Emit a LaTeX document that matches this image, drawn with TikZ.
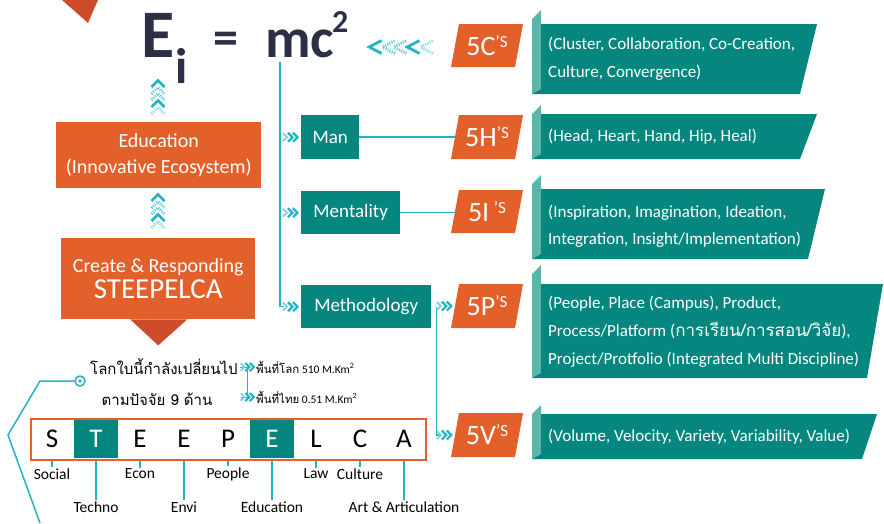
\documentclass[tikz,border=0pt]{standalone}
\usepackage{fontspec}
\setmainfont{Carlito}
\newfontfamily\thaifont[Script=Thai]{Loma}
\usetikzlibrary{positioning}

\definecolor{orng}{HTML}{E4602A}
\definecolor{orngdark}{HTML}{CF4C2A}
\definecolor{tealbox}{HTML}{05877F}
\definecolor{tealtab}{HTML}{5BB6A9}
\definecolor{cyanline}{HTML}{22B3C4}
\definecolor{navy}{HTML}{2B3047}

\tikzset{
  obox/.style={fill=orng, text=white, inner sep=0pt, align=center},
  tbox/.style={fill=tealbox, text=white, inner sep=0pt, font=\fontsize{19}{20}\selectfont},
  tag/.style={text=white, inner sep=0pt, minimum width=64pt, minimum height=43pt, font=\fontsize{28}{28}\selectfont},
  btext/.style={text=white, anchor=west, align=left, inner sep=0pt},
  formula/.style={text=navy, inner sep=0pt, anchor=base west},
  cline/.style={draw=cyanline, line width=1.5pt},
  letter/.style={font=\fontsize{27}{27}\selectfont, inner sep=0pt},
  lbl/.style={font=\fontsize{15.5}{16}\selectfont, inner sep=1pt},
  thaitxt/.style={inner sep=0pt, font=\thaifont\fontsize{15}{15}\selectfont},
  chevs/.pic={
    \draw[cyanline!60, line width=1.8pt] (-8,-4)--(-4,0)--(-8,4);
    \draw[cyanline, line width=2.2pt] (-3,-4.5)--(1.5,0)--(-3,4.5) (2,-4.5)--(6.5,0)--(2,4.5);
  },
  upchev/.pic={
    \draw[cyanline, line width=2.8pt] (-6.5,4)--(0,-2.5)--(6.5,4);
    \draw[cyanline!70, line width=2.8pt, dash pattern=on 1.2pt off 1.2pt] (-6.5,11)--(0,4.5)--(6.5,11);
    \draw[cyanline!70, line width=2.8pt, dash pattern=on 1.2pt off 1.2pt] (-6.5,17)--(0,10.5)--(6.5,17);
    \draw[cyanline, line width=2.8pt] (-6.5,24)--(0,17.5)--(6.5,24);
    \draw[cyanline!50, line width=2.8pt, dash pattern=on 1.2pt off 1.2pt] (-6.5,31)--(0,24.5)--(6.5,31);
  }
}
\newcommand\sups[1]{\raisebox{8pt}{\fontsize{17}{17}\selectfont #1}}

\begin{document}
\begin{tikzpicture}[x=1pt, y=-1pt, >=latex]
\useasboundingbox (0,0) rectangle (884,523);

\fill[orngdark] (62,0) -- (98,0) -- (88,23) -- cycle;

% E_i = mc^2
\node[formula, font=\bfseries\fontsize{68}{68}\selectfont] (E) at (141,57) {E};
\node[formula, font=\bfseries\fontsize{50}{50}\selectfont] (Ei) at (175,83) {i};
\node[formula, font=\bfseries\fontsize{50}{50}\selectfont] (eq) at (213,54) {=};
\node[formula, font=\bfseries\fontsize{56}{56}\selectfont] (mc) at (265,57) {mc};
\node[formula, font=\bfseries\fontsize{32}{32}\selectfont] (sq) at (332,32) {2};
\pic[rotate=90, yscale=1.9] at (374,47) {upchev};

% left column
\node[obox, minimum width=205pt, minimum height=66pt, anchor=north west,
      font=\fontsize{20}{26}\selectfont] (edu) at (56,122) {Education\\(Innovative Ecosystem)};
\node[obox, minimum width=194pt, minimum height=81pt, anchor=north west] (steep) at (61,238)
      {\fontsize{20}{24}\selectfont Create \& Responding\\[3pt]\fontsize{29}{29}\selectfont STEEPELCA};
\fill[orngdark] ([xshift=-28pt]steep.south) -- ([xshift=29pt]steep.south) -- ([yshift=-26pt]steep.south) -- cycle;
\pic at (158,83) {upchev};
\pic at (158,197) {upchev};

% the 3 M's
\node[tbox, minimum width=58pt, minimum height=44pt, anchor=north west] (man) at (301,115) {Man};
\node[tbox, minimum width=99pt, minimum height=43pt, anchor=north west] (ment) at (301,191) {Mentality};
\node[tbox, minimum width=130pt, minimum height=43pt, anchor=north west] (meth) at (301,285) {Methodology};
\coordinate (spine) at (280,62);
\draw[cline] (spine) |- ([xshift=-17pt]meth.west);
\pic at ([xshift=-10pt]man.west) {chevs};
\pic at ([xshift=-10pt]ment.west) {chevs};
\pic at ([xshift=-10pt]meth.west) {chevs};

% orange tags
\foreach \nm/\tp/\bt/\txt in {c5/24/67/5C, h5/115/159/5H, i5/190/233/{5I\,}, p5/284/328/5P, v5/413/457/5V}{
  \fill[orng] (459,\tp) -- (523,\tp) -- (515,\bt) -- (451,\bt) -- cycle;
  \node[tag] (\nm) at (487,{(\tp+\bt)/2}) {\txt\sups{’S}};
}
\draw[cline] (man.east) -- (man.east -| h5.west);
\draw[cline] (ment.east) -- (ment.east -| i5.west);
\coordinate (split) at ([xshift=5pt]meth.east);
\draw[cline] (split) |- ([xshift=-16pt]v5.west);
\pic at ([xshift=-10pt]p5.west) {chevs};
\pic at ([xshift=-10pt]v5.west) {chevs};

% teal banners
\foreach \tt/\tp/\bt/\rt/\rb in {10/24/94/817/800, 105/114/159/817/800, 175/189/259/825/808, 265/284/378/883/867, 405/414/459/877/862}{
  \fill[tealtab] (532,\tt+9) -- (541,\tt) -- (541,\bt-5) -- (532,\bt) -- cycle;
  \fill[tealbox] (541,\tp) -- (\rt,\tp) -- (\rb,\bt) -- (532,\bt) -- (541,\bt-5) -- cycle;
}
\node[btext, font=\fontsize{17}{28}\selectfont] (cC) at (548,59) {(Cluster, Collaboration, Co-Creation,\\Culture, Convergence)};
\node[btext, font=\fontsize{17}{28}\selectfont] (cH) at (548,137) {(Head, Heart, Hand, Hip, Heal)};
\node[btext, font=\fontsize{17}{27}\selectfont] (cI) at (548,226) {(Inspiration, Imagination, Ideation,\\Integration, Insight/Implementation)};
\node[btext, font=\fontsize{17}{28}\selectfont] (cP) at (548,332) {(People, Place (Campus), Product,\\Process/Platform ({\thaifont การเรียน/การสอน/วิจัย}),\\Project/Protfolio (Integrated Multi Discipline)};
\node[btext, font=\fontsize{17}{28}\selectfont] (cV) at (548,437) {(Volume, Velocity, Variety, Variability, Value)};

% Thai heading
\node[thaitxt, anchor=west] (world) at (90,367) {โลกใบนี้กำลังเปลี่ยนไป};
\node[thaitxt] (factor) at (157,399) {ตามปัจจัย 9 ด้าน};
\node[anchor=west, inner sep=0pt, font=\fontsize{11.5}{12}\selectfont] (earth) at (256,367) {{\thaifont พื้นที่โลก} 510 M.Km\textsuperscript{2}};
\node[anchor=west, inner sep=0pt, font=\fontsize{11.5}{12}\selectfont] (thai) at (256,397) {{\thaifont พื้นที่ไทย} 0.51 M.Km\textsuperscript{2}};
\draw[draw=cyanline, line width=1pt] ([xshift=2pt]world.east) -- ++(8,0) |- ([xshift=-15pt]thai.west);
\pic[scale=0.9] at ([xshift=-8pt]earth.west) {chevs};
\pic[scale=0.9] at ([xshift=-8pt]thai.west) {chevs};

% ring and side line
\node[circle, draw=cyanline, line width=1.5pt, minimum size=10pt, inner sep=0pt] (ring) at (80,381) {};
\fill[cyanline] (ring) circle (1.8);
\draw[cline] (ring.west) -- (40,381) -- (8,435) -- (40,523);

% STEEPELCA strip
\fill[tealbox] (74,419) rectangle (118,458);
\fill[tealbox] (250,419) rectangle (294,458);
\node[draw=orng, line width=1.5pt, minimum width=395pt, minimum height=41pt, anchor=north west, inner sep=0pt] (strip) at (30,418) {};
\foreach \ch/\lab/\ly/\col [count=\i from 0] in {S/Social/474/black, T/Techno/507/white, E/Econ/474/black, E/Envi/507/black, P/People/474/black, E/Education/507/white, L/Law/474/black, C/Culture/474/black, A/Art \& Articulation/507/black}{
  \pgfmathsetmacro\cx{52+44*\i}
  \node[letter, text=\col] (l\i) at (\cx,438.5) {\ch};
  \node[lbl] (w\i) at (\cx,\ly) {\lab};
  \draw[cline] (strip.south -| l\i) -- (w\i.north);
}
\end{tikzpicture}
\end{document}
